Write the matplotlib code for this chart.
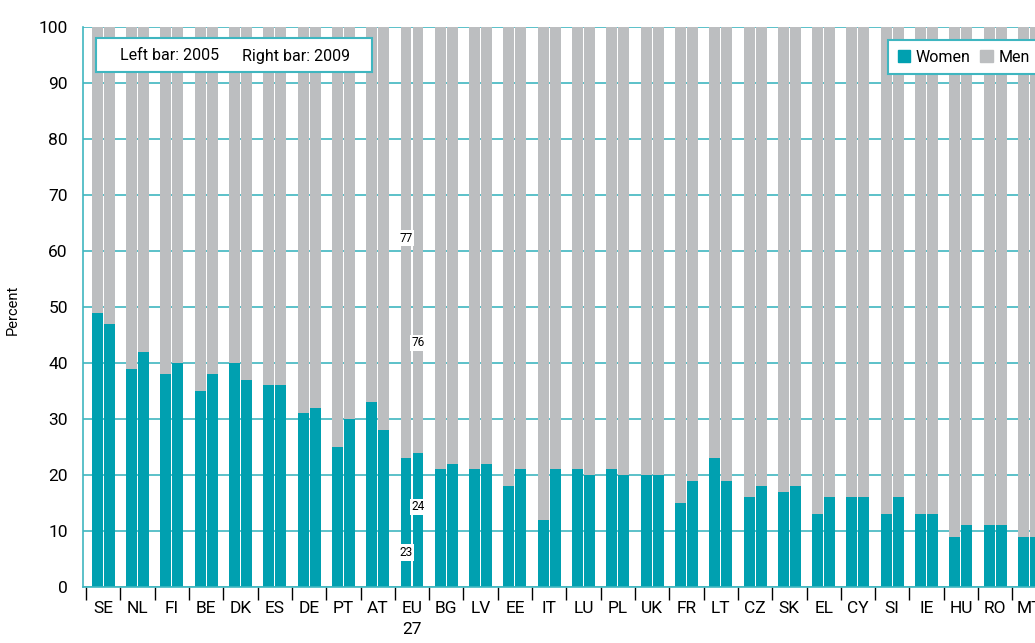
import numpy as np
import matplotlib.pyplot as plt
from matplotlib.patches import Rectangle

plt.rcParams['font.family'] = ['Roboto', 'DejaVu Sans']

countries = ["SE", "NL", "FI", "BE", "DK", "ES", "DE", "PT", "AT", "EU\n27",
             "BG", "LV", "EE", "IT", "LU", "PL", "UK", "FR", "LT", "CZ",
             "SK", "EL", "CY", "SI", "IE", "HU", "RO", "MT"]
women_2005 = [49, 39, 38, 35, 40, 36, 31, 25, 33, 23,
              21, 21, 18, 12, 21, 21, 20, 15, 23, 16,
              17, 13, 16, 13, 13, 9, 11, 9]
women_2009 = [47, 42, 40, 38, 37, 36, 32, 30, 28, 24,
              22, 22, 21, 21, 20, 20, 20, 19, 19, 18,
              18, 16, 16, 16, 13, 11, 11, 9]
men_2005 = [100 - v for v in women_2005]
men_2009 = [100 - v for v in women_2009]

teal = "#00a0b0"
grey = "#bcbec0"
grid_c = "#3fb6c0"

fig = plt.figure(figsize=(10.35, 6.43), dpi=100)
ax = fig.add_axes([83 / 1035, 56 / 643, 1 - 83 / 1035, 560 / 643])

x = np.arange(len(countries))
w = 0.32
off = 0.175

ax.bar(x - off, women_2005, w, color=teal, zorder=2)
ax.bar(x - off, men_2005, w, bottom=women_2005, color=grey, zorder=2)
ax.bar(x + off, women_2009, w, color=teal, zorder=2)
ax.bar(x + off, men_2009, w, bottom=women_2009, color=grey, zorder=2)

ax.set_yticks(range(0, 101, 10))
ax.yaxis.grid(True, color=grid_c, linewidth=1.2, zorder=0)
ax.set_axisbelow(True)
ax.tick_params(axis='y', length=0, labelsize=12.5, pad=11)

ax.set_xticks(np.arange(len(countries) + 1) - 0.5)
ax.set_xticklabels([])
ax.set_xticks(x, minor=True)
ax.set_xticklabels(countries, minor=True, fontsize=12.5, linespacing=1.5)
ax.tick_params(axis='x', which='major', length=9.5, width=1, color='black', direction='out')
ax.tick_params(axis='x', which='minor', length=0, pad=10)

# limits after the ticks, set_xticks widens the view otherwise
ax.set_xlim(-0.59, 27.16)
ax.set_ylim(0, 100)

for s in ['top', 'right']:
    ax.spines[s].set_visible(False)
for s in ['left', 'bottom']:
    ax.spines[s].set_color(grid_c)
    ax.spines[s].set_linewidth(1.2)

ax.set_ylabel("Percent", fontsize=10.5)
ax.yaxis.set_label_coords(-0.066, 0.495)

# EU 27 value labels
eu = countries.index("EU\n27")
lbl = dict(fontsize=8.5, ha='center', va='center', zorder=4,
           bbox=dict(boxstyle='square,pad=0.15', fc='white', ec='none'))
ax.text(eu - off, 62.3, str(men_2005[eu]), **lbl)
ax.text(eu + off, 43.6, str(men_2009[eu]), **lbl)
ax.text(eu + off, 14.3, str(women_2009[eu]), **lbl)
ax.text(eu - off, 6.2, str(women_2005[eu]), **lbl)

# year note box
ax.add_patch(Rectangle((96 / 1035, 1 - 72 / 643), 276 / 1035, 34 / 643,
                       transform=fig.transFigure, fc='white', ec=grid_c,
                       lw=1.5, zorder=5))
fig.text(170 / 1035, 1 - 56 / 643, "Left bar: 2005", fontsize=11.5,
         ha='center', va='center', zorder=6)
fig.text(296 / 1035, 1 - 56 / 643, "Right bar: 2009", fontsize=11.5,
         ha='center', va='center', zorder=6)

# series legend
h1 = Rectangle((0, 0), 1, 1, color=teal)
h2 = Rectangle((0, 0), 1, 1, color=grey)
leg = fig.legend([h1, h2], ["Women", "Men"], loc='upper left',
                 bbox_to_anchor=(888 / 1035, 1 - 40 / 643), ncol=2,
                 fontsize=11.5, frameon=True, fancybox=False, framealpha=1,
                 borderaxespad=0, handlelength=0.8, handleheight=0.8,
                 handletextpad=0.35, columnspacing=0.6, borderpad=0.6)
leg.get_frame().set_edgecolor(grid_c)
leg.get_frame().set_linewidth(1.5)

fig.savefig("out.png", dpi=100)
